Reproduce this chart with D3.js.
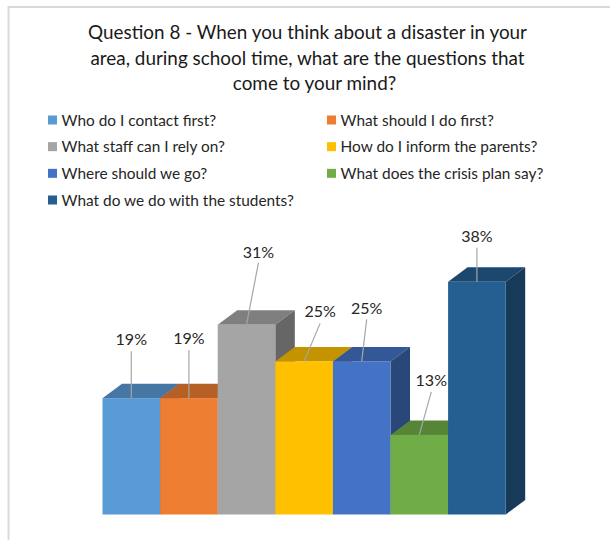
<!DOCTYPE html>
<html>
<head>
<meta charset="utf-8">
<script src="https://cdn.jsdelivr.net/npm/d3@7"></script>
<style>
  html, body { margin: 0; padding: 0; background: #fff; }
  svg { display: block; font-family: Lato, "Open Sans", sans-serif; }
</style>
</head>
<body>
<svg id="chart" width="610" height="540"></svg>
<script>
const titleLines = [
  "Question 8 - When you think about a disaster in your",
  "area, during school time, what are the questions that",
  "come to your mind?"
];
const categories = [
  "Who do I contact first?",
  "What should I do first?",
  "What staff can I rely on?",
  "How do I inform the parents?",
  "Where should we go?",
  "What does the crisis plan say?",
  "What do we do with the students?"
];
const percents = [19, 19, 31, 25, 25, 13, 38];
const colors = ["#5b9bd5", "#ed7d31", "#a5a5a5", "#ffc000", "#4472c4", "#70ad47", "#255e91"];

// Label placement relative to the top-centre of each bar's front face.
const labelShiftX = [0, 0, 12, 16, 5, 12, 0];
const labelShiftY = [-59, -60, -73, -50, -53, -55, -46];
const leaderGap = [12, 12, 11, 12, 11, 12, 12];
const titleCentres = [307.5, 307.5, 314.5];

const depthX = 19.5, depthY = 14.5;
const svg = d3.select("#chart");

// Frame: top and left edges only, the other two run off the page.
svg.append("path")
  .attr("d", "M610,7H8.5V540")
  .attr("fill", "none")
  .attr("stroke", "#d9d9d9")
  .attr("stroke-width", 2);

svg.append("g").selectAll("text").data(titleLines).join("text")
  .attr("x", (d, i) => titleCentres[i])
  .attr("y", (d, i) => 39 + i * 25.7)
  .attr("text-anchor", "middle")
  .attr("font-size", 18.9)
  .attr("fill", "#1a1a1a")
  .text(d => d);

// Legend: two columns, filled row by row.
const legendX = d3.scalePoint().domain([0, 1]).range([48, 327]);
const legendY = d3.scalePoint().domain([0, 1, 2, 3]).range([120, 200]);
const legend = svg.append("g").selectAll("g").data(categories).join("g")
  .attr("transform", (d, i) => `translate(${legendX(i % 2)},${legendY(Math.floor(i / 2))})`);
legend.append("rect")
  .attr("y", -4.5).attr("width", 9).attr("height", 9)
  .attr("fill", (d, i) => colors[i]);
legend.append("text")
  .attr("x", 13.6)
  .attr("y", 5.5)
  .attr("font-size", 15.4)
  .attr("fill", "#262626")
  .text(d => d);

const x = d3.scaleBand().domain(categories).range([102.5, 505.7]).padding(0);
const y = d3.scaleLinear().domain([0, 40]).range([514.5, 269.5]);
const w = x.bandwidth();
const base = y(0);

// Left-to-right painter's order: each bar hides what it overlaps of the previous one.
const bars = svg.append("g").selectAll("g").data(categories).join("g");
const shade = (i, k) => {
  const c = d3.rgb(colors[i]);
  return d3.rgb(c.r * k, c.g * k, c.b * k).formatHex();
};
bars.append("path")
  .attr("fill", (d, i) => shade(i, 0.77))
  .attr("d", (d, i) => {
    const l = x(d), t = y(percents[i]);
    return `M${l},${t}H${l + w}L${l + w + depthX},${t - depthY}H${l + depthX}Z`;
  });
bars.append("path")
  .attr("fill", (d, i) => shade(i, 0.62))
  .attr("d", (d, i) => {
    const r = x(d) + w, t = y(percents[i]);
    return `M${r},${t}L${r + depthX},${t - depthY}V${base - depthY}L${r},${base}Z`;
  });
bars.append("rect")
  .attr("x", d => x(d))
  .attr("y", (d, i) => y(percents[i]))
  .attr("width", w)
  .attr("height", (d, i) => base - y(percents[i]))
  .attr("fill", (d, i) => colors[i]);

// Leader lines and value labels sit above all the bars.
const anchors = categories.map((d, i) => ({
  cx: x(d) + w / 2,
  top: y(percents[i]),
  lx: x(d) + w / 2 + labelShiftX[i],
  ly: y(percents[i]) + labelShiftY[i],
  gap: leaderGap[i],
  text: percents[i] + "%"
}));
svg.append("g").selectAll("line").data(anchors).join("line")
  .attr("x1", d => d.cx)
  .attr("y1", d => d.top)
  .attr("x2", d => d.lx)
  .attr("y2", d => d.ly + d.gap)
  .attr("stroke", "#a6a6a6")
  .attr("stroke-width", 1.2);
svg.append("g").selectAll("text").data(anchors).join("text")
  .attr("x", d => d.lx)
  .attr("y", d => d.ly + 6)
  .attr("text-anchor", "middle")
  .attr("font-size", 16)
  .attr("fill", "#262626")
  .text(d => d.text);
</script>
</body>
</html>
